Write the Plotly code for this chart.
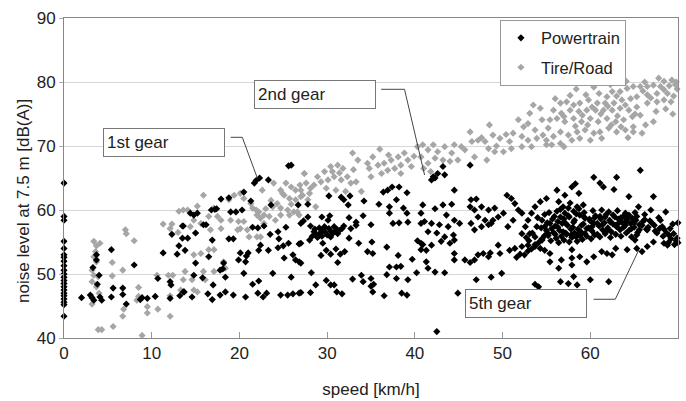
import plotly.graph_objects as go

# ---------------- data (speed km/h, noise level dB(A)) ----------------
powertrain_idle = [(0, 64.2), (0, 59.0), (0, 58.4), (0, 55.1), (0, 54.0), (0, 53.0), (0, 52.6), (0, 52.0),
                   (0, 51.3), (0, 50.6), (0, 50.0), (0, 49.5), (0, 49.0), (0, 48.5), (0, 48.0), (0, 47.5),
                   (0, 47.0), (0, 46.6), (0, 46.1), (0, 45.6), (0, 45.2), (0, 43.4)]

powertrain_low = [(2.0, 46.3), (3.0, 46.7), (3.2, 46.3), (3.3, 51.0), (3.4, 45.9), (3.7, 53.0), (3.7, 52.2),
                  (3.8, 48.4), (4.0, 49.8), (4.1, 46.4), (4.3, 45.9), (5.4, 53.8), (5.6, 47.8), (5.4, 46.4),
                  (6.7, 47.8), (6.7, 46.8), (7.1, 45.3), (8.0, 51.4), (8.7, 46.0), (8.9, 46.3), (9.5, 46.2),
                  (10.4, 46.5), (10.7, 49.3), (11.3, 53.3), (12.1, 48.8), (12.2, 48.3), (12.1, 46.2),
                  (12.3, 56.2), (12.9, 53.1), (13.1, 54.4), (13.5, 55.6), (13.6, 57.5), (13.2, 46.6), (13.7, 47.2)]

powertrain_first = [(25.6, 66.9), (25.9, 67.0), (22.3, 65.0), (21.7, 64.2), (21.9, 64.6), (23.3, 64.7), (20.5, 62.8),
                    (21.3, 61.4), (17.9, 61.7), (18.8, 61.9), (16.8, 60.0), (15.2, 59.5), (14.4, 59.5), (14.8, 59.2),
                    (19.0, 59.7), (19.6, 59.7), (23.6, 60.8), (26.7, 60.8), (27.3, 58.3), (21.5, 57.3), (22.1, 57.2),
                    (22.8, 57.5), (24.4, 56.6), (25.3, 57.3), (13.5, 57.5), (15.0, 56.4), (15.9, 57.7), (14.1, 55.6),
                    (16.9, 55.3), (18.8, 55.5), (23.5, 56.2), (24.5, 55.5), (22.4, 54.5), (13.8, 53.7), (20.1, 53.3),
                    (21.0, 53.3), (22.2, 53.7), (23.3, 53.7), (24.4, 54.1), (25.0, 54.4), (25.6, 54.8), (26.8, 54.7),
                    (16.5, 52.7), (19.9, 52.2), (20.7, 51.9), (25.1, 52.5), (26.1, 53.0), (26.4, 52.2), (15.0, 51.7),
                    (18.2, 51.7), (17.8, 50.6), (26.8, 51.9), (14.8, 49.8), (20.5, 50.1), (23.8, 50.1), (25.9, 49.5),
                    (15.8, 49.4), (18.4, 49.5), (17.0, 48.3), (21.5, 48.4), (22.2, 48.9), (13.6, 47.2), (14.6, 46.4),
                    (16.4, 46.9), (16.9, 46.0), (17.8, 46.7), (18.4, 47.2), (19.3, 46.7), (20.7, 46.4), (22.1, 47.0),
                    (22.7, 46.4), (23.1, 47.0), (24.7, 46.7), (25.5, 46.7), (26.1, 46.9), (26.8, 47.0), (17.2, 60.1),
                    (17.4, 60.2), (18.1, 50.8), (19.3, 55.5), (16.2, 57.7), (20.3, 60.0), (20.8, 52.8)]

powertrain_second = [(30.3, 59.1), (27.8, 60.9), (30.2, 62.2), (31.6, 62.0), (31.9, 61.6), (32.6, 62.2), (34.2, 61.4),
                     (36.4, 62.8), (36.9, 63.1), (37.4, 63.6), (38.2, 63.6), (39.1, 62.7), (37.9, 61.6), (35.9, 60.9),
                     (37.1, 60.5), (38.7, 60.3), (39.1, 59.5), (32.4, 60.8), (29.4, 58.9), (30.1, 58.4), (27.8, 58.9),
                     (32.5, 58.8), (33.3, 58.1), (34.1, 59.1), (35.0, 57.7), (37.1, 59.5), (37.5, 57.9), (38.2, 58.0),
                     (39.2, 58.1), (40.7, 57.9), (28.1, 57.5), (28.5, 56.6), (28.7, 56.2), (29.0, 55.9), (29.2, 56.4),
                     (29.5, 56.9), (29.7, 57.4), (30.2, 57.1), (30.5, 56.6), (30.8, 57.4), (31.1, 57.0), (31.4, 56.8),
                     (31.7, 57.1), (31.9, 57.5), (28.3, 55.9), (28.9, 55.7), (29.4, 55.9), (30.0, 56.1), (30.6, 56.3),
                     (31.2, 56.3), (32.7, 57.1), (33.3, 57.6), (28.6, 57.0), (29.1, 57.2), (29.8, 56.5), (30.4, 55.8),
                     (31.0, 56.7), (32.5, 55.6), (27.0, 57.9), (27.0, 54.8), (28.0, 55.3), (29.5, 54.8), (29.9, 53.7),
                     (30.4, 53.1), (31.0, 53.9), (31.5, 53.1), (32.0, 53.5), (31.2, 51.8), (29.3, 52.9), (33.6, 54.8),
                     (34.6, 53.5), (35.2, 53.2), (35.1, 55.0), (36.8, 54.2), (38.1, 52.9), (40.3, 55.2), (40.7, 53.8),
                     (40.9, 54.6), (39.7, 52.3), (37.1, 51.1), (37.9, 51.1), (38.4, 51.2), (36.8, 49.9), (37.9, 49.3),
                     (39.2, 49.1), (40.2, 50.2), (28.2, 50.2), (29.9, 49.0), (30.4, 48.3), (30.8, 48.3), (28.7, 48.3),
                     (28.1, 47.1), (27.0, 47.1), (31.1, 47.2), (31.7, 46.9), (32.9, 49.2), (33.9, 49.8), (34.1, 48.8),
                     (35.0, 49.3), (35.0, 48.1), (35.3, 48.4), (35.2, 47.2), (36.5, 46.6), (38.5, 47.0), (39.1, 46.7),
                     (27.0, 51.7)]

powertrain_third = [(42.5, 41.0), (44.9, 47.0), (46.3, 67.0), (42.1, 65.2), (42.6, 65.7), (43.4, 65.5), (43.2, 66.8),
                    (44.5, 63.1), (42.3, 60.2), (43.2, 60.8), (44.2, 60.9), (43.6, 59.2), (41.1, 58.2), (41.9, 57.9),
                    (42.8, 57.7), (43.8, 57.4), (44.5, 58.4), (45.1, 57.9), (41.5, 56.6), (42.5, 56.4), (43.4, 55.8),
                    (44.4, 56.1), (40.7, 54.8), (41.9, 54.5), (43.0, 55.1), (44.0, 54.8), (44.5, 55.3), (41.3, 53.7),
                    (46.4, 61.6), (47.0, 61.7), (46.3, 60.5), (46.8, 60.0), (47.6, 60.5), (48.4, 60.0), (49.1, 60.3),
                    (50.1, 59.5), (47.2, 58.9), (48.0, 58.4), (48.7, 57.9), (46.4, 57.9), (46.8, 56.9), (47.6, 57.4),
                    (48.4, 57.7), (48.9, 58.4), (49.5, 58.9), (50.5, 62.3), (51.0, 61.8), (51.4, 61.0), (50.6, 57.4),
                    (51.2, 58.4), (51.8, 60.0), (52.2, 59.5), (44.5, 53.2), (44.5, 52.2), (45.7, 52.2), (46.3, 51.8),
                    (46.8, 52.2), (47.2, 53.0), (47.8, 53.2), (48.4, 52.7), (48.6, 53.3), (49.5, 54.5), (49.7, 53.2),
                    (50.8, 53.7), (51.4, 54.0), (52.2, 54.3), (52.9, 54.5), (53.7, 54.3), (54.3, 54.0), (54.8, 53.7),
                    (55.4, 53.2), (52.2, 56.3), (52.6, 57.4), (52.9, 58.4), (53.3, 59.5), (53.7, 60.5), (54.3, 61.3),
                    (53.1, 56.3), (53.9, 57.4), (54.5, 58.4), (54.8, 57.4), (53.7, 55.8), (54.5, 55.3), (55.2, 56.3),
                    (41.3, 51.9), (41.5, 50.9), (42.3, 50.3), (43.4, 50.2), (47.0, 49.1), (48.7, 49.5), (49.9, 50.1),
                    (53.7, 48.4), (54.1, 48.0), (40.7, 59.5), (40.9, 60.8), (41.9, 64.7), (42.3, 65.0),
                    (51.6, 52.6), (52.0, 53.1), (52.5, 53.0), (52.9, 53.6), (53.3, 53.9), (53.7, 54.6), (54.1, 54.9),
                    (54.5, 55.5), (54.8, 56.0), (53.0, 55.2), (53.4, 56.4), (52.7, 55.7)]

powertrain_fifth = [(65.7, 66.2), (60.4, 65.1), (61.1, 64.2), (61.5, 63.6), (63.0, 65.1), (62.7, 63.2), (58.3, 64.1),
                    (57.9, 63.6), (56.2, 63.1), (58.7, 62.6), (57.1, 62.3), (64.4, 62.1), (67.2, 62.1), (55.0, 61.8),
                    (56.4, 61.3), (57.7, 61.1), (56.9, 60.5), (58.5, 60.5), (59.2, 60.8), (65.5, 60.5), (66.9, 60.0),
                    (68.6, 59.7), (68.0, 58.4), (68.2, 57.4), (67.6, 56.4), (68.4, 54.8), (68.8, 54.5), (67.2, 55.0),
                    (66.5, 56.9), (66.5, 54.3), (65.1, 55.3), (65.3, 54.0), (65.9, 53.5), (64.2, 53.8), (62.9, 54.0),
                    (62.5, 53.0), (61.9, 53.2), (61.3, 53.5), (60.4, 52.7), (59.6, 51.9), (58.8, 52.7), (57.9, 53.8),
                    (57.9, 52.5), (57.9, 51.4), (56.7, 52.2), (55.4, 51.9), (56.4, 50.9), (56.6, 48.8), (57.5, 48.5),
                    (58.1, 49.6), (58.5, 48.3), (60.0, 49.1), (62.1, 48.8)]

powertrain_dense = [(56.0, 57.5), (56.3, 58.2), (56.5, 56.8), (56.8, 57.9), (57.0, 58.6), (57.2, 56.4), (57.4, 57.6),
                    (57.6, 58.9), (57.8, 56.1), (58.0, 57.3), (58.2, 58.4), (58.4, 55.8), (58.6, 57.0), (58.8, 59.2),
                    (59.0, 56.5), (59.2, 57.8), (59.4, 58.7), (59.6, 55.9), (59.8, 57.2), (60.0, 58.3), (60.2, 56.7),
                    (60.4, 57.9), (60.6, 59.1), (60.8, 56.2), (61.0, 57.5), (61.2, 58.6), (61.4, 56.9), (61.6, 58.0),
                    (61.8, 59.3), (62.0, 57.2), (62.2, 58.4), (62.4, 56.6), (62.6, 57.8), (62.8, 58.9), (63.0, 57.4),
                    (63.2, 58.6), (63.4, 56.9), (63.6, 58.1), (63.8, 59.0), (64.0, 57.6), (64.2, 58.5), (64.4, 56.8),
                    (64.6, 57.9), (64.8, 58.7), (65.0, 57.3), (65.2, 58.4), (65.4, 56.5), (65.6, 57.7), (66.0, 58.2),
                    (66.4, 57.0), (55.2, 56.0), (55.5, 55.2), (55.8, 56.5), (56.1, 55.6), (56.4, 54.9), (56.7, 55.9),
                    (57.0, 55.3), (57.3, 56.2), (57.6, 55.0), (57.9, 55.7), (58.2, 56.4), (58.5, 55.1), (58.8, 56.0),
                    (59.1, 55.4), (59.4, 56.3), (60.1, 55.5), (60.5, 56.1), (61.1, 55.8), (61.7, 56.3), (62.3, 55.7),
                    (62.9, 56.2), (63.5, 55.9), (64.1, 56.4), (64.7, 55.8), (65.3, 56.1), (54.0, 58.8), (54.4, 57.2),
                    (54.8, 59.3), (55.1, 58.0), (55.3, 59.6), (55.6, 57.1), (55.9, 59.0), (56.2, 59.8), (56.6, 60.1),
                    (57.1, 59.5), (57.5, 60.3), (58.1, 59.8), (58.7, 60.2), (59.3, 59.6), (60.3, 59.9), (61.3, 60.0),
                    (62.1, 59.7), (63.1, 59.9), (64.0, 59.5), (65.1, 59.6), (66.2, 59.3), (66.8, 58.3), (67.3, 57.6),
                    (67.8, 58.8), (68.4, 57.0), (69.0, 56.0), (69.4, 57.8), (69.8, 55.2), (69.6, 54.6), (70.0, 58.0),
                    (69.2, 55.5), (68.9, 54.9),
                    (55.0, 56.8), (55.4, 57.9), (55.7, 58.6), (56.0, 56.2), (56.3, 57.3), (56.6, 58.9), (56.9, 56.6),
                    (57.2, 57.9), (57.5, 59.1), (57.8, 57.0), (58.1, 58.1), (58.4, 59.4), (58.7, 56.3), (59.0, 57.6),
                    (59.3, 58.9), (59.6, 57.1), (59.9, 58.6), (60.2, 57.4), (60.5, 58.8), (60.8, 57.9), (61.1, 59.0),
                    (61.4, 57.7), (61.7, 58.9), (62.0, 56.9), (62.3, 58.1), (62.6, 59.2), (62.9, 57.6), (63.2, 57.9),
                    (63.5, 58.8), (63.8, 57.3), (64.1, 58.2), (64.4, 59.2), (64.7, 57.1), (65.0, 58.0), (65.3, 59.0),
                    (65.6, 56.9), (65.9, 57.6), (66.2, 58.5), (66.6, 57.3), (67.0, 58.0), (67.4, 56.7), (67.9, 57.1),
                    (68.3, 55.9), (68.7, 56.4), (69.1, 57.1), (69.5, 56.3), (69.9, 55.6), (70.0, 54.9)]

tire_low = [(3.4, 55.1), (3.7, 54.4), (4.1, 54.8), (3.4, 52.7), (3.7, 51.9), (3.2, 50.6), (3.4, 49.8), (3.9, 49.6),
            (3.2, 48.8), (3.7, 48.0), (3.2, 45.3), (3.9, 41.3), (4.3, 41.3), (5.6, 41.8), (5.5, 51.8), (5.5, 49.7),
            (7.0, 56.9), (7.1, 56.3), (6.7, 50.6), (8.0, 55.2), (8.5, 47.9), (8.5, 46.5), (8.3, 45.9), (6.8, 44.5),
            (6.7, 43.4), (9.5, 44.9), (9.5, 43.9), (8.9, 40.4), (10.6, 49.8), (10.7, 44.5), (12.1, 43.4),
            (12.1, 46.6), (11.9, 49.8), (12.4, 49.8), (13.1, 59.8), (11.3, 57.8), (12.3, 57.8), (13.0, 56.5),
            (12.1, 57.1), (13.3, 47.5), (3.6, 53.5), (4.0, 47.0)]

tire_first = [(15.9, 62.3), (15.2, 60.6), (14.1, 60.0), (13.6, 60.0), (14.8, 58.4), (15.6, 57.9), (14.4, 57.4),
              (15.0, 56.4), (16.7, 56.9), (17.9, 58.4), (17.9, 57.1), (17.1, 60.3), (18.8, 61.6), (19.4, 62.3),
              (20.1, 62.6), (20.5, 61.8), (19.0, 58.4), (19.9, 58.2), (20.5, 58.2), (20.1, 57.1), (20.9, 56.9),
              (21.3, 61.0), (21.5, 60.3), (21.9, 60.0), (22.2, 59.7), (22.8, 59.2), (22.6, 63.1), (23.9, 64.2),
              (24.7, 63.1), (25.3, 64.2), (25.9, 63.6), (26.4, 63.1), (25.1, 62.3), (25.7, 61.8), (26.4, 61.6),
              (27.2, 62.3), (24.3, 61.0), (23.8, 60.5), (24.7, 60.3), (25.5, 60.0), (26.2, 59.7), (22.0, 59.2),
              (22.4, 58.7), (23.4, 59.0), (24.1, 58.4), (24.7, 59.2), (25.7, 59.2), (26.6, 59.7), (22.8, 57.9),
              (22.0, 55.8), (22.4, 55.8), (21.1, 55.8), (19.8, 56.9), (17.5, 59.0), (16.5, 59.0), (16.5, 53.8),
              (17.1, 53.8), (15.6, 53.2), (14.8, 53.0), (15.9, 50.4), (17.1, 50.4), (18.2, 51.9), (18.4, 50.9),
              (13.8, 50.4), (13.6, 49.1), (14.6, 49.1), (16.1, 49.1), (15.2, 47.2), (14.8, 47.5), (26.8, 59.2),
              (27.4, 65.7), (23.0, 60.2), (23.6, 61.5), (24.9, 62.6), (25.9, 60.9), (26.9, 63.9)]

tire_second = [(32.9, 68.9), (33.5, 67.8), (34.6, 67.3), (36.0, 69.5), (35.2, 68.3), (36.5, 67.3), (37.3, 67.8),
               (38.1, 68.3), (38.8, 68.9), (39.2, 67.8), (38.4, 67.0), (39.6, 66.8), (40.3, 69.9), (40.7, 68.3),
               (27.4, 65.7), (28.9, 65.2), (29.7, 66.0), (30.4, 66.8), (31.2, 67.0), (31.8, 66.5), (29.3, 64.4),
               (30.1, 64.7), (30.8, 65.2), (31.6, 64.7), (32.3, 65.2), (32.7, 64.2), (28.5, 63.9), (29.9, 63.4),
               (31.0, 63.1), (32.1, 62.9), (33.3, 64.4), (33.9, 62.9), (35.0, 65.2), (34.8, 66.5), (36.2, 65.7),
               (36.9, 66.2), (37.7, 66.5), (38.4, 65.7), (28.0, 62.6), (27.8, 61.6), (28.7, 60.5), (28.1, 63.4),
               (27.0, 63.1), (27.0, 62.1), (27.6, 64.2), (30.6, 66.0), (31.4, 65.8), (33.0, 66.3), (35.8, 67.0),
               (37.0, 68.6), (39.9, 68.4)]

tire_third = [(40.9, 70.2), (41.5, 69.4), (42.1, 70.2), (42.6, 69.1), (43.4, 69.9), (44.2, 68.9), (44.5, 70.2),
              (42.3, 68.1), (43.2, 67.8), (44.0, 67.6), (41.5, 67.3), (46.3, 72.2), (46.5, 70.7), (47.2, 70.9),
              (48.0, 70.7), (48.5, 73.3), (48.9, 71.7), (49.7, 71.2), (48.4, 69.6), (49.1, 69.1), (46.8, 68.3),
              (48.2, 67.8), (50.1, 69.1), (50.8, 70.7), (51.2, 72.0), (51.8, 74.1), (52.4, 73.0), (53.1, 75.1),
              (53.5, 76.4), (54.3, 75.9), (52.9, 73.5), (53.7, 72.5), (54.5, 74.1), (52.2, 71.5), (52.9, 70.9),
              (53.9, 71.2), (54.6, 71.7), (55.2, 72.8), (55.0, 70.2), (53.3, 69.9), (52.2, 69.9), (51.0, 69.6),
              (45.3, 69.9), (45.7, 69.4), (44.9, 67.8), (41.0, 66.5), (41.8, 66.0), (47.6, 71.3), (50.4, 71.8),
              (49.3, 70.0)]

tire_fifth = [(68.4, 80.1), (68.0, 79.3), (67.2, 79.5), (66.5, 79.3), (65.7, 79.3), (64.9, 79.3), (64.2, 79.0),
              (63.4, 78.5), (62.5, 78.5), (61.9, 77.7), (67.6, 78.2), (66.5, 78.0), (65.3, 77.7), (64.6, 77.4),
              (63.6, 77.2), (62.7, 76.7), (61.7, 76.7), (60.8, 76.7), (59.8, 77.2), (58.8, 76.7), (58.1, 76.4),
              (57.3, 76.9), (56.6, 76.7), (55.8, 75.6), (56.7, 75.1), (57.7, 75.6), (58.7, 75.4), (59.6, 75.6),
              (60.6, 75.6), (61.5, 75.6), (62.5, 75.6), (63.4, 75.9), (64.4, 75.6), (65.3, 76.1), (66.5, 76.7),
              (67.6, 76.9), (68.4, 77.2), (55.4, 74.1), (56.2, 74.3), (57.1, 73.8), (58.1, 74.3), (59.0, 73.8),
              (60.0, 74.3), (60.9, 73.8), (61.9, 74.3), (62.9, 73.8), (63.8, 74.1), (64.8, 74.6), (65.7, 74.8),
              (67.2, 73.8), (64.9, 73.0), (64.0, 72.5), (63.0, 72.2), (62.1, 72.8), (61.1, 72.2), (61.3, 71.2),
              (60.4, 72.0), (59.4, 72.5), (58.5, 72.2), (57.5, 71.7), (56.6, 72.2), (55.8, 71.5), (55.0, 70.9),
              (56.6, 70.4), (55.6, 70.2), (57.0, 69.9), (57.9, 70.9), (58.8, 71.2), (60.0, 70.9), (64.9, 72.2),
              (68.4, 78.8), (68.8, 78.2), (69.3, 80.3), (69.7, 79.6), (69.9, 78.9), (69.5, 77.8), (69.0, 79.4),
              (69.8, 80.0), (69.2, 76.9), (60.2, 76.1), (61.2, 75.0), (59.1, 74.8), (62.0, 76.2), (63.1, 74.7),
              (64.0, 76.4), (65.1, 75.0), (66.0, 78.6), (66.9, 77.5), (63.0, 77.8), (61.0, 78.2), (59.5, 78.0),
              (60.4, 79.2), (62.3, 79.6), (64.1, 80.1), (66.2, 80.0), (67.8, 80.6), (57.7, 77.9), (58.4, 78.9),
              (56.0, 77.4), (57.0, 74.6), (58.3, 73.1), (59.7, 73.3), (62.4, 73.3), (63.5, 73.0), (66.3, 73.3),
              (64.3, 71.3), (65.9, 72.0), (67.5, 75.4), (68.6, 75.8), (69.4, 75.0)]

x_ticks = [0, 10, 20, 30, 40, 50, 60, 70]
y_ticks = [40, 50, 60, 70, 80, 90]
series_names = ["Powertrain", "Tire/Road"]
gear_labels = ["1st gear", "2nd gear", "5th gear"]
x_title = "speed [km/h]"
y_title = "noise level at 7.5 m [dB(A)]"

powertrain = (powertrain_idle + powertrain_low + powertrain_first + powertrain_second
              + powertrain_third + powertrain_fifth + powertrain_dense)
tire_road = tire_low + tire_first + tire_second + tire_third + tire_fifth

FONT = "Arial, Liberation Sans, sans-serif"
TXT = "#222222"

fig = go.Figure()
fig.add_trace(go.Scatter(
    x=[p[0] for p in tire_road], y=[p[1] for p in tire_road], mode="markers",
    name=series_names[1], legendrank=2, legendgroup="tr", cliponaxis=False,
    marker=dict(symbol="diamond", size=5.5, color="#a6a6a6", line=dict(width=0))))
fig.add_trace(go.Scatter(
    x=[p[0] for p in powertrain], y=[p[1] for p in powertrain], mode="markers",
    name=series_names[0], legendrank=1, legendgroup="pt", cliponaxis=False,
    marker=dict(symbol="diamond", size=5.5, color="#000000", line=dict(width=0))))

# gear callouts: (label, box centre, leader path)
callouts = [
    (gear_labels[0], (11.44, 70.55), [(19.0, 71.36), (20.33, 71.36), (22.05, 64.95)]),
    (gear_labels[1], (28.6, 78.1), [(36.16, 78.86), (38.82, 78.86), (41.11, 65.47)]),
    (gear_labels[2], (52.69, 45.39), [(60.38, 46.05), (62.85, 46.05), (65.53, 53.75)]),
]
for label, (cx, cy), path in callouts:
    fig.add_annotation(x=cx, y=cy, xref="x", yref="y", text=label, showarrow=False,
                       width=114, height=21, align="left", borderpad=3,
                       bordercolor="#777777", borderwidth=1, bgcolor="white",
                       font=dict(family=FONT, size=17, color=TXT))
    d = "M {} {} ".format(*path[0]) + " ".join("L {} {}".format(px, py) for px, py in path[1:])
    fig.add_shape(type="path", path=d, xref="x", yref="y",
                  line=dict(color="#444444", width=1))

# y-axis title (placed slightly below centre as in the original)
fig.add_annotation(x=-0.066, y=0.43, xref="paper", yref="paper", text=y_title, showarrow=False,
                   textangle=-90, xanchor="center", yanchor="middle",
                   font=dict(family=FONT, size=17, color=TXT))

fig.update_layout(
    width=686, height=401,
    margin=dict(l=64, r=8, t=18, b=63),
    paper_bgcolor="white", plot_bgcolor="white",
    font=dict(family=FONT, size=17, color=TXT),
    legend=dict(x=0.71, y=0.995, xanchor="left", yanchor="top",
                bordercolor="#999999", borderwidth=1, bgcolor="white",
                font=dict(family=FONT, size=16.5, color=TXT),
                traceorder="grouped", tracegroupgap=5, itemsizing="trace"),
    xaxis=dict(range=[0, 70], tickvals=x_ticks, showgrid=False, zeroline=False, automargin=False,
               ticks="inside", ticklen=6, tickcolor="#999999",
               showline=True, linecolor="#888888", linewidth=1, mirror=True,
               tickfont=dict(family=FONT, size=17, color=TXT),
               title=dict(text=x_title, font=dict(family=FONT, size=17, color=TXT), standoff=20)),
    yaxis=dict(range=[40, 90], tickvals=y_ticks, showgrid=True, gridcolor="#d6d6d6", zeroline=False,
               automargin=False,
               ticks="outside", ticklen=4, tickcolor="#aaaaaa",
               showline=True, linecolor="#888888", linewidth=1, mirror=True,
               tickfont=dict(family=FONT, size=17, color=TXT)),
)

fig.write_html("out.html")
